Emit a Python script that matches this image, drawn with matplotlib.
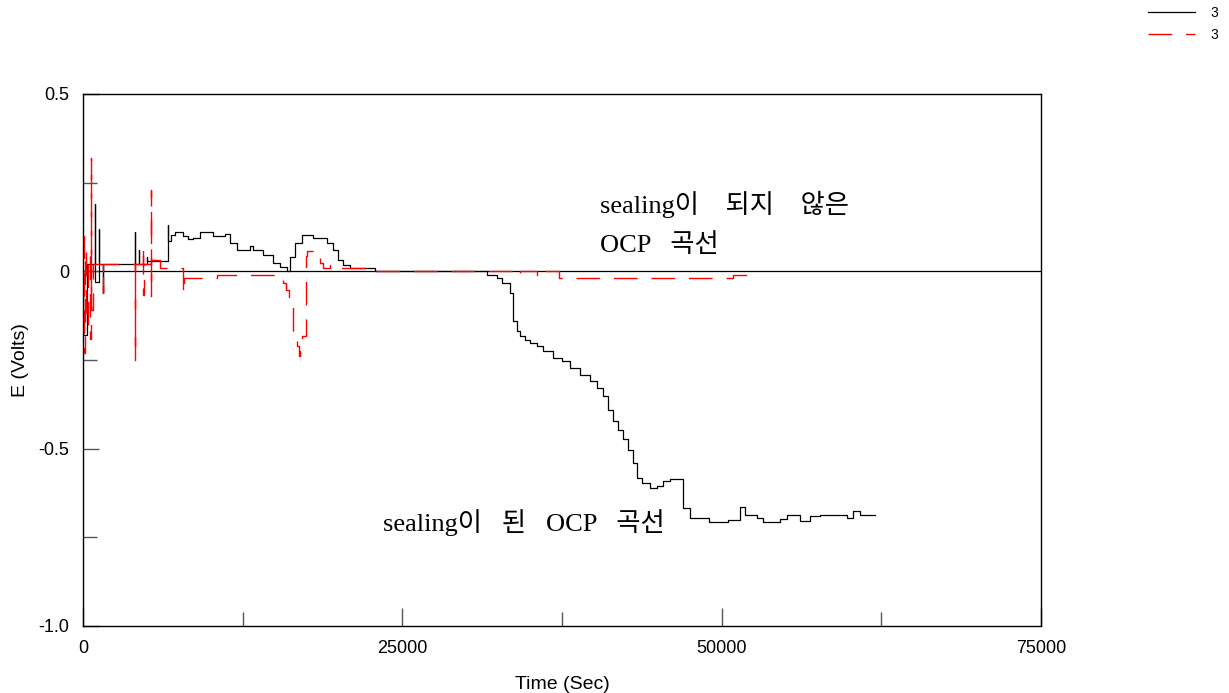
import numpy as np
import matplotlib.pyplot as plt
from matplotlib.ticker import MultipleLocator, FixedFormatter, FixedLocator

# sealing된 시편 (black)
black_t = [0, 30, 290, 910, 920, 1250, 1260, 1540, 1550, 4070, 4080, 4380, 4390,
           5030, 5040, 6630, 6640, 6890, 7200, 7860, 8250, 8640, 9160, 10210,
           11120, 11510, 12030, 13080, 13340, 14120, 14900, 15430, 15950, 16210,
           16600, 17120, 18040, 19080, 19600, 20000, 20390, 20910, 22870, 31610,
           32400, 32790, 33440, 33650, 33960, 34220, 34610, 35000, 35530, 36050,
           36830, 37490, 38140, 38920, 39700, 40230, 40740, 41140, 41530, 41920,
           42310, 42700, 43090, 43360, 43750, 44400, 44930, 45440, 45970, 47010,
           47530, 48970, 50530, 51450, 51840, 52760, 53270, 54580, 55110, 56150,
           56930, 57710, 59800, 60320, 60850, 62020]
black_v = [0.0, -0.18, 0.02, 0.19, -0.03, 0.12, 0.02, -0.06, 0.022, 0.11, 0.022, 0.06, 0.022,
           0.04, 0.028, 0.13, 0.085, 0.103, 0.11, 0.10, 0.09, 0.094, 0.11, 0.101,
           0.105, 0.08, 0.061, 0.071, 0.061, 0.045, 0.024, 0.012, 0.0, 0.04,
           0.08, 0.103, 0.094, 0.08, 0.061, 0.033, 0.019, 0.009, 0.0, -0.009,
           -0.019, -0.033, -0.061, -0.141, -0.169, -0.183, -0.193, -0.202, -0.211, -0.226,
           -0.244, -0.254, -0.272, -0.291, -0.310, -0.329, -0.352, -0.390, -0.423, -0.446,
           -0.474, -0.503, -0.540, -0.582, -0.597, -0.611, -0.606, -0.592, -0.585, -0.667,
           -0.695, -0.707, -0.700, -0.665, -0.686, -0.695, -0.707, -0.698, -0.686, -0.704,
           -0.690, -0.686, -0.695, -0.677, -0.686, -0.686]

# sealing 안 된 시편 (red dashed)
red_t = [0, 40, 150, 250, 420, 520, 600, 610, 810, 1540, 1550, 4070, 4080, 4720,
         4730, 4740, 5300, 5310, 5320, 6030, 7860, 7870, 10470, 15160, 15690, 15900,
         16160, 16470, 16780, 16900, 17000, 17120, 17460, 17470, 17520, 18040, 18560,
         18820, 19340, 19600, 22870, 33960, 34220, 35530, 35920, 37230, 50920, 52075]
red_v = [0.10, -0.23, 0.06, -0.15, 0.05, -0.19, 0.32, -0.11, 0.022, -0.06, 0.022, -0.249, 0.022, 0.071,
         -0.066, 0.022, 0.23, -0.07, 0.033, 0.0096, -0.06, -0.019, -0.009, -0.014, -0.033, -0.052,
         -0.099, -0.174, -0.211, -0.239, -0.211, -0.183, -0.136, 0.043, 0.056, 0.043, 0.024,
         0.0096, 0.019, 0.0096, 0.0, -0.009, 0.0, -0.012, 0.0, -0.019, -0.009, -0.009]

y_ticks = [0.5, 0, -0.5, -1.0]
y_labels = ["0.5", "0", "-0.5", "-1.0"]

plt.rcParams['font.family'] = ['Liberation Sans', 'DejaVu Sans']

fig = plt.figure(figsize=(12.29, 6.93), dpi=100)
ax = fig.add_axes([83 / 1229, 1 - 626 / 693, (1041 - 83) / 1229, (626 - 94) / 693])

ax.axhline(0, color='black', lw=0.9, zorder=1)
l1, = ax.plot(black_t, black_v, drawstyle='steps-post', color='black', lw=0.9, zorder=2,
              label='3')
l2, = ax.plot(red_t, red_v, drawstyle='steps-post', color='red', lw=1.0, zorder=3,
              dashes=(17, 10), label='3')

ax.set_xlim(0, 75000)
ax.set_ylim(-1.0, 0.5)
ax.xaxis.set_major_locator(MultipleLocator(25000))
ax.xaxis.set_minor_locator(MultipleLocator(12500))
ax.yaxis.set_major_locator(FixedLocator(y_ticks))
ax.yaxis.set_major_formatter(FixedFormatter(y_labels))
ax.yaxis.set_minor_locator(MultipleLocator(0.25))
ax.tick_params(axis='both', which='both', direction='in', color='#555555', width=1,
               labelsize=13, pad=10)
ax.tick_params(axis='x', which='major', length=13)
ax.tick_params(axis='x', which='minor', length=10)
ax.tick_params(axis='y', which='major', length=11.5)
ax.tick_params(axis='y', which='minor', length=10)
for s in ax.spines.values():
    s.set_linewidth(1)

ax.set_xlabel("Time (Sec)", fontsize=14, labelpad=14)
ax.set_ylabel("E (Volts)", fontsize=14, labelpad=7)

kfont = ['Liberation Serif', 'Noto Sans CJK KR']
ax.text(40485, 0.188, "sealing이    되지    않은", family=kfont, fontsize=19, va='center', ha='left')
ax.text(40485, 0.075, "OCP   곡선", family=kfont, fontsize=19, va='center', ha='left')
ax.text(23492, -0.709, "sealing이   된   OCP   곡선", family=kfont, fontsize=19, va='center', ha='left')

fig.legend(handles=[l1, l2], loc='upper left', bbox_to_anchor=(1148 / 1229, 1 - 6 / 693),
           frameon=False, fontsize=10, handlelength=3.4, handletextpad=1.1,
           labelspacing=0.55, borderpad=0, borderaxespad=0)

plt.savefig("out.png", dpi=100)
